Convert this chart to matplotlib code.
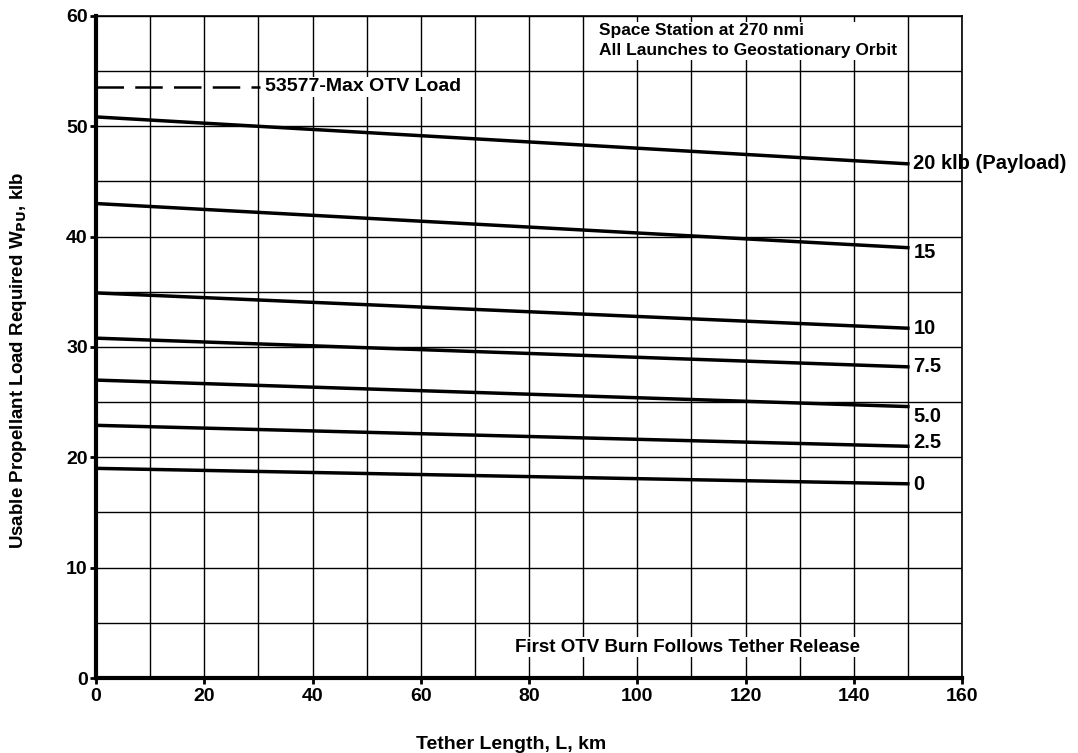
import matplotlib.pyplot as plt
import numpy as np

plt.rcParams['font.family'] = ['Liberation Sans', 'DejaVu Sans']
plt.rcParams['font.weight'] = 'bold'

# Data
tether_km = [0, 150]
payload_labels = ["20 klb (Payload)", "15", "10", "7.5", "5.0", "2.5", "0"]
load_start = [50.85, 43.0, 34.9, 30.8, 27.0, 22.9, 19.0]
load_end = [46.6, 39.0, 31.7, 28.2, 24.6, 21.0, 17.6]
label_y = [46.6, 38.6, 31.7, 28.2, 23.7, 21.3, 17.5]
max_otv = 53.577
max_otv_x = [0, 30.3]

fig = plt.figure(figsize=(10.78, 7.53), dpi=100)
ax = fig.add_axes([0.0891, 0.0996, 0.8033, 0.8792])

ax.set_xlim(0, 160)
ax.set_ylim(0, 60)
ax.set_xticks(np.arange(0, 161, 20))
ax.set_yticks(np.arange(0, 61, 10))
ax.set_xticks(np.arange(0, 161, 10), minor=True)
ax.set_yticks(np.arange(0, 61, 5), minor=True)
ax.grid(which='both', color='black', linewidth=1.0)
ax.tick_params(which='major', labelsize=14, length=4, width=2, direction='out')
ax.tick_params(axis='y', pad=2)
ax.tick_params(which='minor', length=0)
for lab in ax.get_xticklabels() + ax.get_yticklabels():
    lab.set_fontweight('bold')

for side in ['left', 'bottom']:
    ax.spines[side].set_linewidth(3)
for side in ['top', 'right']:
    ax.spines[side].set_linewidth(1.2)

for y0, y1, lab, ly in zip(load_start, load_end, payload_labels, label_y):
    ax.plot(tether_km, [y0, y1], color='black', linewidth=2.5)
    ax.text(151, ly, lab, fontsize=14.5, fontweight='bold', va='center', ha='left')

ax.plot(max_otv_x, [max_otv, max_otv], color='black', linewidth=1.8,
        dashes=(11, 4.5))
ax.text(31.3, max_otv, "53577-Max OTV Load", fontsize=14, fontweight='bold',
        va='center', ha='left', bbox=dict(facecolor='white', edgecolor='none', pad=1))

ax.text(93, 57.75, "Space Station at 270 nmi\nAll Launches to Geostationary Orbit",
        fontsize=12.5, fontweight='bold', va='center', ha='left', linespacing=1.45,
        bbox=dict(facecolor='white', edgecolor='none', pad=1))
ax.text(77.4, 2.8, "First OTV Burn Follows Tether Release", fontsize=13.5,
        fontweight='bold', va='center', ha='left',
        bbox=dict(facecolor='white', edgecolor='none', pad=1))

ax.set_xlabel("Tether Length, L, km", fontsize=14, fontweight='bold')
ax.xaxis.set_label_coords(0.479, -0.088)
ax.set_ylabel("Usable Propellant Load Required W$_{\\mathbf{PU}}$, klb", fontsize=13.5,
              fontweight='bold')
ax.yaxis.set_label_coords(-0.078, 0.48)

fig.savefig("out.png", dpi=100, facecolor='white')
